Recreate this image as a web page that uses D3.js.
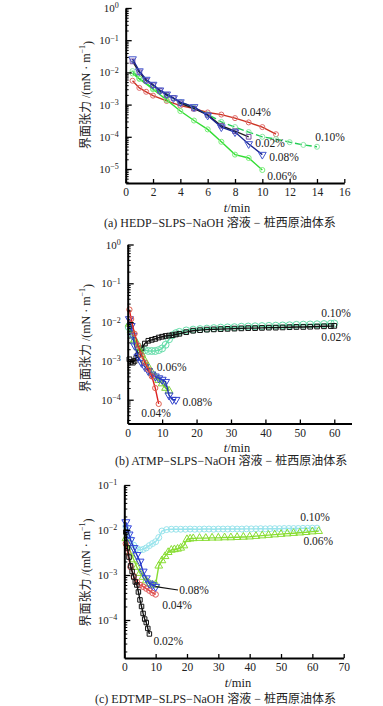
<!DOCTYPE html>
<html><head><meta charset="utf-8">
<script src="https://cdn.jsdelivr.net/npm/d3@7"></script>
<style>
body{margin:0;background:#fff}
svg{display:block}
text{font-family:"Liberation Serif","DejaVu Serif","Noto Sans CJK SC",serif;fill:#222}
</style></head>
<body><svg id="c" width="383" height="706"></svg>
<script>
// ---------- Panel (a) HEDP ----------
const aXTicks = [0,2,4,6,8,10,12,14,16];
const aYTicks = [1e-5,1e-4,1e-3,1e-2,1e-1,1];
const a02_t = [0.5,1,1.5,2,2.5,3,3.5,4,5,6,7,8,9];
const a02_v = [0.022,0.01,0.0055,0.004,0.0027,0.002,0.0016,0.0011,0.00075,0.00048,0.00022,0.00015,0.0001];
const a04_t = [0.5,1,1.5,2,3,4,5,6,7,8,9,10,11];
const a04_v = [0.0055,0.0033,0.0025,0.0019,0.0013,0.00093,0.00075,0.00057,0.00049,0.00038,0.00028,0.0002,0.00012];
const a06_t = [0.5,1,2,3,4,5,6,7,8,9,10];
const a06_v = [0.0093,0.0063,0.003,0.0014,0.00063,0.00032,0.00017,0.00007,0.000028,0.000022,0.0000093];
const a08_t = [0.5,1,1.5,2,2.5,3,3.5,4,5,6,7,8,9,10];
const a08_v = [0.026,0.011,0.006,0.0042,0.0028,0.0021,0.0016,0.0012,0.00085,0.00046,0.0002,0.00014,0.00006,0.000028];
const a10_t = [0.5,1,2,3,4,5,6,7,8,9,10,11,12,13,14];
const a10_v = [0.011,0.0065,0.0032,0.0019,0.0012,0.0008,0.0005,0.00029,0.0002,0.00014,0.0001,0.000085,0.000068,0.000056,0.000049];

// ---------- Panel (b) ATMP ----------
const bXTicks = [0,10,20,30,40,50,60];
const bYTicks = [1e-4,1e-3,1e-2,1e-1,1];
const b02_t = [0.5,1,1.5,2,2.5,3,3.5,4,5,6,7,8,9,10,11,12,13,14,15,17,19,21,23,25,27,29,31,33,35,37,39,41,43,45,47,49,51,53,55,57,59,60];
const b02_v = [0.0011,0.00095,0.0009,0.001,0.0012,0.0014,0.0017,0.0021,0.0028,0.0033,0.0035,0.0037,0.004,0.0042,0.0044,0.0045,0.0046,0.0048,0.005,0.0055,0.006,0.0062,0.0064,0.0065,0.0066,0.0067,0.0068,0.0069,0.007,0.007,0.0071,0.0072,0.0072,0.0073,0.0074,0.0075,0.0075,0.0076,0.0077,0.0078,0.0079,0.008];
const b04_t = [0.5,1,2,3,4,5,6,7,8,9];
const b04_v = [0.021,0.012,0.005,0.0025,0.0014,0.0009,0.0006,0.0004,0.0002,0.000078];
const b06_t = [0.5,1,2,3,4,5,6,7,8,9,10,11,12];
const b06_v = [0.009,0.0062,0.0035,0.0022,0.0015,0.001,0.0007,0.0005,0.0004,0.00032,0.00026,0.0002,0.00017];
const b08_t = [0.5,1,1.5,2,3,4,5,6,7,8,9,10,11,12,13,14];
const b08_v = [0.012,0.008,0.0045,0.0025,0.0013,0.0009,0.0007,0.00055,0.00045,0.0004,0.00036,0.00033,0.00029,0.00013,0.0001,0.0001];
const b10_t = [0.3,1,2,3,4,5,6,7,8,9,10,11,12,13,14,15,17,19,21,23,25,27,29,31,33,35,37,39,41,43,45,47,49,51,53,55,57,59,60];
const b10_v = [0.0075,0.005,0.0032,0.0024,0.002,0.0019,0.0018,0.0018,0.0018,0.0019,0.0021,0.0026,0.0036,0.0046,0.0052,0.0056,0.0061,0.0064,0.0066,0.0068,0.007,0.0072,0.0073,0.0074,0.0076,0.0077,0.0078,0.0079,0.008,0.0081,0.0082,0.0083,0.0085,0.0086,0.0087,0.0088,0.0089,0.0091,0.0092];

// ---------- Panel (c) EDTMP ----------
const cXTicks = [0,10,20,30,40,50,60,70];
const cYTicks = [1e-4,1e-3,1e-2,1e-1];
const c02_t = [0.5,1,1.5,2,2.5,3,3.5,4,4.5,5,5.5,6,6.5,7,7.5,8];
const c02_v = [0.009,0.004,0.0025,0.0016,0.0012,0.0009,0.0007,0.0006,0.00042,0.00028,0.0002,0.00014,0.000105,0.000088,0.000065,0.000049];
const c04_t = [0.5,1,2,3,4,5,6,7,8,9,10];
const c04_v = [0.005,0.0032,0.0015,0.00095,0.0007,0.0006,0.00055,0.0005,0.00045,0.0004,0.00037];
const c06_t = [0.5,1,2,3,4,5,6,7,8,9,10,11,12,13,14,15,16,17,18,19,20,21,22,24,26,28,30,32,34,36,38,40,42,44,46,48,50,52,54,56,58,60,62];
const c06_v = [0.0065,0.005,0.0033,0.0022,0.0015,0.0011,0.0009,0.00075,0.00065,0.0006,0.00062,0.0016,0.0021,0.0026,0.0032,0.0036,0.0037,0.0038,0.004,0.0045,0.0062,0.0064,0.0065,0.0066,0.0066,0.0067,0.0067,0.0068,0.0068,0.0069,0.007,0.0071,0.0073,0.0075,0.0077,0.0079,0.0081,0.0083,0.0085,0.0087,0.0089,0.0092,0.0094];
const c08_t = [0.5,1,1.5,2,3,4,5,6,7,8,9,10];
const c08_v = [0.015,0.011,0.008,0.006,0.004,0.0028,0.002,0.0012,0.00085,0.00065,0.0006,0.00055];
const c10_t = [0.5,1,2,3,4,5,6,7,8,9,10,11,12,13.5,15,16.5,18,19.5,21,22.5,24,25.5,27,28.5,30,31.5,33,34.5,36,37.5,39,40.5,42,43.5,45,46.5,48,49.5,51,52.5,54,55.5,57,58.5,60,61.5];
const c10_v = [0.012,0.009,0.0062,0.0046,0.0039,0.0036,0.0037,0.004,0.0045,0.005,0.0055,0.0068,0.0095,0.0102,0.0104,0.0104,0.0104,0.0104,0.0105,0.0104,0.0104,0.0105,0.0105,0.0104,0.0105,0.0105,0.0105,0.0106,0.0105,0.0105,0.0106,0.0106,0.0106,0.0107,0.0106,0.0107,0.0107,0.0107,0.0108,0.0108,0.0108,0.0108,0.0109,0.0109,0.011,0.011];

const seriesLabels = ["0.02%","0.04%","0.06%","0.08%","0.10%"];

const svg = d3.select("#c");
const FONT = '"Liberation Serif","DejaVu Serif","Noto Sans CJK SC",serif';

function sym(kind, size){
  const map = {circle:d3.symbolCircle, square:d3.symbolSquare, tri:d3.symbolTriangle, tridown:d3.symbolTriangle};
  return d3.symbol().type(map[kind]).size(size)();
}

function drawPanel(p){
  const g = svg.append("g");
  const x = d3.scaleLinear().domain(p.xDomain).range(p.xRange);
  const y = d3.scaleLog().domain(p.yDomain).range(p.yRange);

  p.series.forEach(s=>{
    const pts = d3.zip(s.t, s.v);
    const line = d3.line().x(d=>x(d[0])).y(d=>y(d[1]));
    g.append("path").datum(pts).attr("d",line).attr("fill","none")
      .attr("stroke",s.color).attr("stroke-width",s.w||1.4)
      .attr("stroke-dasharray",s.dash||null);
    g.selectAll(null).data(pts).enter().append("path")
      .attr("d",sym(s.marker,s.size||22))
      .attr("transform",d=>`translate(${x(d[0])},${y(d[1])})${s.marker==="tridown"?" rotate(180)":""}`)
      .attr("fill","none").attr("stroke",s.mcolor||s.color).attr("stroke-width",1);
  });

  const minors=[];
  for(let e=-7;e<=0;e++) for(let m=2;m<=9;m++){const v=m*Math.pow(10,e); if(v>=p.yDomain[0]&&v<=p.yDomain[1]) minors.push(v);}
  const ymin = g.append("g").attr("transform",`translate(${p.xRange[0]},0)`)
    .call(d3.axisLeft(y).tickValues(minors).tickSizeInner(-3).tickSizeOuter(0).tickFormat(()=>""));
  ymin.select(".domain").remove();
  ymin.selectAll("line").attr("stroke-width",1);

  const ya = g.append("g").attr("transform",`translate(${p.xRange[0]},0)`)
    .call(d3.axisLeft(y).tickValues(p.yTicks).tickSizeInner(-6).tickSizeOuter(0).tickPadding(7).tickFormat(()=>""));
  ya.attr("font-family",FONT).attr("font-size",11);
  ya.select(".domain").attr("stroke-width",2);
  ya.selectAll(".tick line").attr("stroke-width",1.3);
  ya.selectAll(".tick text").each(function(d){
    const e=Math.round(Math.log10(d));
    const t=d3.select(this);
    t.append("tspan").text("10");
    t.append("tspan").attr("dy","-0.45em").attr("font-size","8px").text(e===0?"0":"\u2212"+(-e));
  });

  const xa = g.append("g").attr("transform",`translate(0,${p.yRange[0]})`)
    .call(d3.axisBottom(x).tickValues(p.xTicks).tickSizeInner(-4).tickSizeOuter(0).tickPadding(5));
  xa.attr("font-family",FONT).attr("font-size",11.5);
  xa.select(".domain").attr("stroke-width",2);
  xa.selectAll(".tick line").attr("stroke-width",1.3);

  const yt = g.append("text").attr("transform",`translate(${p.yTitle[0]},${p.yTitle[1]}) rotate(-90)`)
    .attr("text-anchor","middle").attr("dominant-baseline","central").attr("font-size",12);
  yt.append("tspan").text("界面张力 /(mN · m");
  yt.append("tspan").attr("dy","-0.45em").attr("font-size","8px").text("\u22121");
  yt.append("tspan").attr("dy","0.45em").text(")");

  const xt = g.append("text").attr("x",p.xTitle[0]).attr("y",p.xTitle[1]).attr("text-anchor","middle").attr("font-size",12.5);
  xt.append("tspan").attr("font-style","italic").text("t");
  xt.append("tspan").text("/min");

  g.append("text").attr("x",p.caption[0]).attr("y",p.caption[1]).attr("font-size",12).text(p.caption[2]);

  (p.leaders||[]).forEach(l=>{
    g.append("line").attr("x1",x(l[0])).attr("y1",y(l[1])).attr("x2",l[2]).attr("y2",l[3])
      .attr("stroke","#111").attr("stroke-width",1.2);
  });

  p.labels.forEach(l=>{
    g.append("text").attr("x",l[1]).attr("y",l[2]).attr("text-anchor","middle")
      .attr("dominant-baseline","central").attr("font-size",11.5).text(l[0]);
  });
}

drawPanel({
  xDomain:[0,16], xRange:[125.7,344.3],
  yDomain:[Math.pow(10,-5.435),1], yRange:[183,8],
  xTicks:aXTicks, yTicks:aYTicks,
  series:[
    {t:a04_t,v:a04_v,color:"#cc3322",mcolor:"#e06a6a",marker:"circle",size:20},
    {t:a10_t,v:a10_v,color:"#22cc55",mcolor:"#8ee8a8",marker:"circle",size:20,dash:"7,3"},
    {t:a06_t,v:a06_v,color:"#33dd33",mcolor:"#7aee7a",marker:"circle",size:20},
    {t:a02_t,v:a02_v,color:"#222222",mcolor:"#7a4fa0",marker:"square",size:22},
    {t:a08_t,v:a08_v,color:"#1a2590",mcolor:"#4455cc",marker:"tridown",size:26}
  ],
  labels:[[seriesLabels[1],256,111.7],[seriesLabels[4],330,137.3],[seriesLabels[0],270,143.3],[seriesLabels[3],284,157.3],[seriesLabels[2],282,176]],
  yTitle:[86,95], xTitle:[237,212],
  caption:[104,227,"(a) HEDP\u2212SLPS\u2212NaOH 溶液 \u2212 桩西原油体系"]
});

drawPanel({
  xDomain:[0,65], xRange:[127.7,351.5],
  yDomain:[Math.pow(10,-4.613),1], yRange:[423.5,244.5],
  xTicks:bXTicks, yTicks:bYTicks,
  series:[
    {t:b10_t,v:b10_v,color:"#66ddaa",mcolor:"#66ddaa",marker:"circle",size:38,w:1.6},
    {t:b02_t,v:b02_v,color:"#111111",mcolor:"#111111",marker:"square",size:22},
    {t:b06_t,v:b06_v,color:"#66cc22",mcolor:"#77cc33",marker:"tri",size:26},
    {t:b08_t,v:b08_v,color:"#1a30b0",mcolor:"#3344cc",marker:"tridown",size:28},
    {t:b04_t,v:b04_v,color:"#dd2222",mcolor:"#e06050",marker:"circle",size:22}
  ],
  labels:[[seriesLabels[4],336,312.7],[seriesLabels[0],336,336.7],[seriesLabels[2],171.7,366.7],[seriesLabels[3],197.3,401.7],[seriesLabels[1],156,413.3]],
  yTitle:[86,338], xTitle:[237,452],
  caption:[115,465,"(b) ATMP\u2212SLPS\u2212NaOH 溶液 \u2212 桩西原油体系"]
});

drawPanel({
  xDomain:[0,70], xRange:[124.3,343.7],
  yDomain:[Math.pow(10,-4.844),0.1], yRange:[658,485],
  xTicks:cXTicks, yTicks:cYTicks,
  series:[
    {t:c10_t,v:c10_v,color:"#99e4ec",mcolor:"#99e4ec",marker:"circle",size:28},
    {t:c06_t,v:c06_v,color:"#88dd33",mcolor:"#88dd33",marker:"tri",size:26},
    {t:c04_t,v:c04_v,color:"#dd4444",mcolor:"#e05555",marker:"circle",size:24},
    {t:c08_t,v:c08_v,color:"#2233bb",mcolor:"#3344dd",marker:"tridown",size:28},
    {t:c02_t,v:c02_v,color:"#111111",mcolor:"#111111",marker:"square",size:20}
  ],
  leaders:[[10,0.00055,178,590]],
  labels:[[seriesLabels[4],315,516.7],[seriesLabels[2],318.3,540.7],[seriesLabels[3],194,589.5],[seriesLabels[1],177,604.5],[seriesLabels[0],168.3,640.7]],
  yTitle:[86,572.5], xTitle:[238,687],
  caption:[95,703,"(c) EDTMP\u2212SLPS\u2212NaOH 溶液 \u2212 桩西原油体系"]
});
</script>
</body></html>
